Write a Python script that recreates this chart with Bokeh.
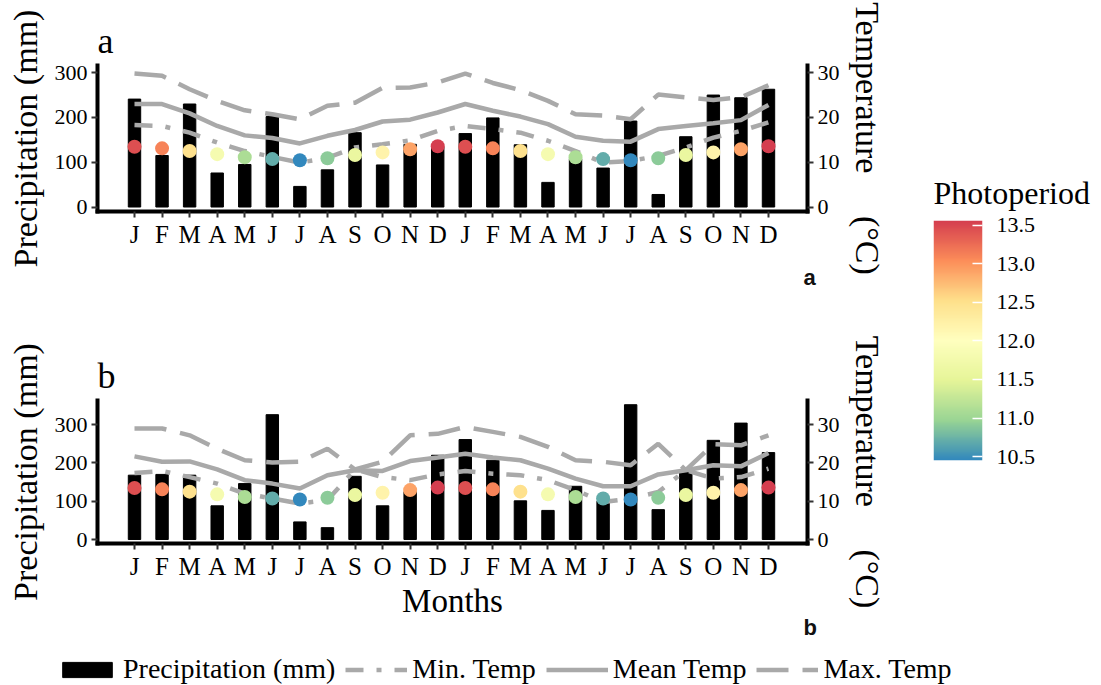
import numpy as np
from bokeh.plotting import figure
from bokeh.models import (Range1d, LinearAxis, FixedTicker, LinearColorMapper, Title,
                          PrintfTickFormatter, Legend, LegendItem, ColumnDataSource)
from bokeh.layouts import column, row
from bokeh.palettes import Spectral7
from bokeh.embed import file_html
from bokeh.resources import INLINE

# ---------------- data ----------------
month_labels = ["J", "F", "M", "A", "M", "J", "J", "A", "S", "O", "N", "D",
                "J", "F", "M", "A", "M", "J", "J", "A", "S", "O", "N", "D"]
months = list(range(1, 25))

prec_a = [241, 115, 230, 76, 95, 202, 46, 83, 166, 94, 140, 135,
          164, 199, 139, 55, 108, 87, 192, 28, 157, 250, 244, 263]
tmax_a = [29.8, 29.3, 26.3, 23.7, 21.6, 20.7, 19.6, 22.6, 23.3, 26.6, 26.7, 27.8,
          29.8, 27.7, 26.1, 23.7, 20.7, 20.4, 19.6, 25.1, 24.5, 23.9, 24.5, 27.2]
tmean_a = [23.0, 23.0, 20.9, 18.1, 16.0, 15.4, 14.2, 15.9, 17.2, 19.1, 19.5, 21.1,
           23.0, 21.5, 20.2, 18.5, 15.7, 14.8, 14.6, 17.4, 18.1, 18.7, 19.4, 22.8]
tmin_a = [18.3, 18.1, 16.6, 14.4, 12.5, 11.2, 9.9, 11.0, 13.3, 14.0, 14.9, 17.0,
          18.1, 17.4, 16.6, 14.8, 12.5, 9.9, 10.3, 11.4, 13.3, 15.5, 17.0, 18.9]

prec_b = [168, 170, 168, 88, 146, 326, 46, 31, 165, 88, 125, 220,
          261, 207, 101, 76, 139, 100, 352, 78, 175, 259, 304, 227]
tmax_b = [29.0, 29.0, 27.2, 23.7, 20.7, 20.1, 20.3, 23.7, 18.3, 20.3, 27.2, 27.6,
          29.4, 28.1, 26.8, 24.2, 20.7, 20.3, 19.4, 25.0, 18.1, 24.9, 24.6, 27.2]
tmean_b = [21.7, 20.3, 20.4, 18.3, 15.5, 14.6, 13.3, 16.8, 18.1, 17.9, 20.5, 21.4,
           22.4, 21.4, 20.7, 18.5, 15.9, 13.9, 13.9, 17.0, 18.1, 19.4, 19.1, 22.6]
tmin_b = [17.4, 17.9, 16.3, 14.6, 12.0, 10.7, 9.4, 10.3, 18.3, 16.3, 15.5, 17.0,
          17.9, 17.2, 16.8, 15.5, 12.9, 9.8, 10.7, 12.4, 18.1, 15.9, 16.3, 18.5]

photoperiod = [13.45, 13.1, 12.5, 11.8, 11.1, 10.7, 10.45, 10.9, 11.6, 12.2, 12.9, 13.56,
               13.45, 13.1, 12.5, 11.8, 11.1, 10.7, 10.45, 10.9, 11.6, 12.2, 12.9, 13.56]

prec_ticks = [0, 100, 200, 300]
temp_ticks = [0, 10, 20, 30]
photo_ticks = [10.5, 11.0, 11.5, 12.0, 12.5, 13.0, 13.5]

# ---------------- style ----------------
SERIF = "Liberation Serif"
SANS = "Liberation Sans"
GREY = "#A9A9A9"
LW = 4.5
DASH_MIN = "18 13 5 13"
DASH_MAX = "32 14"
XLO, XHI = -0.342, 25.415
FIG_W = 900
BL, BR = 97, 93


def interp_palette(cols, n=256):
    rgb = np.array([[int(c[i:i + 2], 16) for i in (1, 3, 5)] for c in cols], float)
    t = np.linspace(0, 1, len(cols))
    tt = np.linspace(0, 1, n)
    out = []
    for v in tt:
        r, g, b = (np.interp(v, t, rgb[:, k]) for k in range(3))
        out.append("#%02x%02x%02x" % (int(round(r)), int(round(g)), int(round(b))))
    return out


palette = interp_palette(list(Spectral7))   # blue (low) -> red (high)
p_low, p_high = min(photoperiod), max(photoperiod)
mapper = LinearColorMapper(palette=palette, low=p_low, high=p_high)


def style_axis(ax, label_size="22px"):
    ax.axis_line_width = 4
    ax.axis_line_color = "black"
    ax.axis_line_cap = "square"
    ax.major_tick_line_color = "#333333"
    ax.major_tick_line_width = 2
    ax.major_tick_out = 6
    ax.major_tick_in = 0
    ax.minor_tick_line_color = None
    ax.major_label_text_font = SERIF
    ax.major_label_text_font_size = label_size
    ax.major_label_text_color = "black"
    ax.major_label_standoff = 4
    ax.axis_label_text_font = SERIF
    ax.axis_label_text_font_style = "normal"
    ax.axis_label_text_font_size = "34px"
    ax.axis_label_text_color = "black"


def make_panel(prec, tmax, tmean, tmin, photo, ylo, yhi, height, top, bottom,
               letter, small_standoff, small_valign, xlabel=None):
    p = figure(width=FIG_W, height=height, x_range=Range1d(XLO, XHI),
               y_range=Range1d(ylo, yhi), output_backend="svg", toolbar_location=None,
               min_border_left=BL, min_border_right=BR, min_border_top=top,
               min_border_bottom=bottom)
    p.outline_line_color = None
    p.xgrid.visible = False
    p.ygrid.visible = False
    p.extra_y_ranges = {"temp": Range1d(ylo / 10.0, yhi / 10.0)}

    p.vbar(x=months, top=prec, width=0.45, color="black")
    src = ColumnDataSource(dict(x=months, tmax=tmax, tmean=tmean, tmin=tmin, photo=photo))
    p.line("x", "tmin", source=src, y_range_name="temp", line_color=GREY,
           line_width=LW, line_dash=DASH_MIN)
    p.line("x", "tmean", source=src, y_range_name="temp", line_color=GREY, line_width=LW)
    p.line("x", "tmax", source=src, y_range_name="temp", line_color=GREY,
           line_width=LW, line_dash=DASH_MAX)
    p.scatter("x", "photo", source=src, y_range_name="temp", size=14, line_color=None,
              fill_color={"field": "photo", "transform": mapper})

    xa = p.xaxis[0]
    xa.ticker = FixedTicker(ticks=months)
    xa.major_label_overrides = {m: lab for m, lab in zip(months, month_labels)}
    style_axis(xa, "25px")
    xa.major_label_standoff = 3
    if xlabel:
        xa.axis_label = xlabel
        xa.axis_label_text_font_size = "33px"
        xa.axis_label_standoff = 0

    ya = p.yaxis[0]
    ya.ticker = FixedTicker(ticks=prec_ticks)
    ya.axis_label = "Precipitation (mm)"
    style_axis(ya)
    ya.axis_label_standoff = 8

    ra = LinearAxis(y_range_name="temp", ticker=FixedTicker(ticks=temp_ticks),
                    axis_label="Temperature" + "\u00a0" * 5 + "(\u00b0C)")
    style_axis(ra)
    ra.axis_label_standoff = 6
    p.add_layout(ra, "right")

    # panel letter (top-left)
    p.title.text = letter
    p.title.text_font = SERIF
    p.title.text_font_size = "36px"
    p.title.text_font_style = "normal"
    p.title.text_color = "black"
    p.title.align = "left"
    p.title.offset = 0
    p.title.standoff = 9

    # small bold letter (bottom-right)
    p.add_layout(Title(text=letter, align="left", offset=706, text_font=SANS,
                       text_font_style="bold", text_font_size="22px",
                       vertical_align=small_valign,
                       text_color="#111111", standoff=small_standoff), "below")
    return p


pa = make_panel(prec_a, tmax_a, tmean_a, tmin_a, photoperiod, -10, 316, 330, 65, 119,
                "a", 24, "bottom")
pb = make_panel(prec_b, tmax_b, tmean_b, tmin_b, photoperiod, -10.4, 363, 310, 70, 97,
                "b", -14, "top", xlabel="Months")

# ---------------- colour bar (as its own small plot) ----------------
pc = figure(width=201, height=640, output_backend="svg", toolbar_location=None,
            x_range=Range1d(0, 1), y_range=Range1d(p_low, p_high),
            min_border_left=33, min_border_right=119, min_border_top=220,
            min_border_bottom=180, x_axis_location=None, y_axis_location="right")
pc.outline_line_color = None
pc.grid.visible = False
grad = np.linspace(p_low, p_high, 256).reshape(-1, 1)
pc.image(image=[grad], x=0, y=p_low, dw=1, dh=p_high - p_low, color_mapper=mapper)
cax = pc.yaxis[0]
cax.ticker = FixedTicker(ticks=photo_ticks)
cax.formatter = PrintfTickFormatter(format="%.1f")
cax.axis_line_color = None
cax.major_tick_in = 10
cax.major_tick_out = 0
cax.major_tick_line_color = "white"
cax.major_tick_line_width = 1.5
cax.minor_tick_line_color = None
cax.major_label_standoff = 14
cax.major_label_text_font = SERIF
cax.major_label_text_font_size = "22px"
cax.major_label_text_color = "black"
pc.title.text = "Photoperiod"
pc.title.text_font = SERIF
pc.title.text_font_size = "32px"
pc.title.text_font_style = "normal"
pc.title.text_color = "black"
pc.title.align = "left"
pc.title.standoff = 19

# ---------------- legend ----------------
pl = figure(width=1101, height=45, output_backend="svg", toolbar_location=None,
            min_border=0, x_axis_location=None, y_axis_location=None,
            x_range=Range1d(0, 1), y_range=Range1d(0, 1))
pl.outline_line_color = None
pl.grid.visible = False
nan = float("nan")
r_bar = pl.vbar(x=[nan], top=[nan], width=0.5, color="black")
r_min = pl.line(x=[nan, nan], y=[nan, nan], line_color=GREY, line_width=LW, line_dash=DASH_MIN)
r_mean = pl.line(x=[nan, nan], y=[nan, nan], line_color=GREY, line_width=LW)
r_max = pl.line(x=[nan, nan], y=[nan, nan], line_color=GREY, line_width=LW, line_dash=DASH_MAX)
leg = Legend(items=[LegendItem(label="Precipitation (mm)", renderers=[r_bar]),
                    LegendItem(label="Min. Temp", renderers=[r_min]),
                    LegendItem(label="Mean Temp", renderers=[r_mean]),
                    LegendItem(label="Max. Temp", renderers=[r_max])],
             orientation="horizontal", location=(56, 0), glyph_width=62, glyph_height=19,
             label_standoff=5, spacing=10, padding=0, margin=0,
             label_text_font=SERIF, label_text_font_size="28px", label_text_color="black",
             border_line_color=None, background_fill_alpha=0)
pl.add_layout(leg, "center")

root = column(row(column(pa, pb), pc), pl)
open("out.html", "w").write(file_html(root, INLINE))
